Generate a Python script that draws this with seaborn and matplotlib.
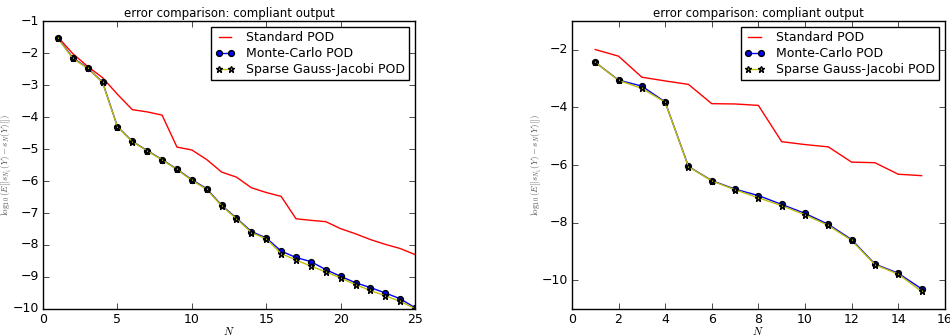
import matplotlib
matplotlib.use("Agg")
import matplotlib.pyplot as plt
import seaborn as sns
import numpy as np
import pandas as pd

plt.style.use("classic")
plt.rcParams["font.family"] = ["DejaVu Sans"]
plt.rcParams["mathtext.fontset"] = "cm"

# Left panel data
N_left = list(range(1, 26))
std_left = [-1.50, -2.02, -2.42, -2.77, -3.29, -3.77, -3.84, -3.94, -4.94, -5.03,
            -5.33, -5.72, -5.88, -6.21, -6.36, -6.48, -7.18, -7.23, -7.27, -7.49,
            -7.65, -7.83, -7.98, -8.11, -8.30]
mc_left = [-1.53, -2.15, -2.47, -2.91, -4.30, -4.76, -5.05, -5.33, -5.63, -5.96,
           -6.24, -6.76, -7.16, -7.58, -7.78, -8.19, -8.39, -8.52, -8.77, -8.98,
           -9.18, -9.33, -9.50, -9.68, -9.96]
sgj_left = [-1.54, -2.17, -2.48, -2.92, -4.31, -4.77, -5.06, -5.34, -5.64, -5.98,
            -6.26, -6.78, -7.18, -7.61, -7.81, -8.27, -8.47, -8.66, -8.84, -9.03,
            -9.24, -9.42, -9.59, -9.76, -9.99]

# Right panel data
N_right = list(range(1, 16))
std_right = [-1.99, -2.22, -2.95, -3.08, -3.20, -3.87, -3.88, -3.93, -5.19, -5.29,
             -5.37, -5.90, -5.92, -6.32, -6.37]
mc_right = [-2.43, -3.05, -3.26, -3.81, -6.05, -6.54, -6.84, -7.06, -7.37, -7.68,
            -8.06, -8.59, -9.44, -9.76, -10.30]
sgj_right = [-2.43, -3.06, -3.34, -3.82, -6.06, -6.55, -6.86, -7.14, -7.41, -7.73,
             -8.10, -8.62, -9.46, -9.79, -10.39]

labels = ["Standard POD", "Monte-Carlo POD", "Sparse Gauss-Jacobi POD"]
title = "error comparison: compliant output"
ylabel = r"$\log_{10}(E[|s_{N_\xi}(Y)-s_N(Y)|])$"
xlabel = r"$N$"

fig = plt.figure(figsize=(9.5, 3.36), dpi=100)
fig.patch.set_facecolor("white")
axL = fig.add_axes([0.0453, 0.0804, 0.3916, 0.857])
axR = fig.add_axes([0.602, 0.0804, 0.3926, 0.857])


def draw(ax, N, std, mc, sgj, xlim, ylim, yticks, xticks, ylab_x):
    sns.lineplot(x=N, y=std, ax=ax, color="red", lw=1.0, label=labels[0])
    sns.lineplot(x=N, y=mc, ax=ax, color="blue", lw=1.0, marker="o", markersize=4.2,
                 markerfacecolor="blue", markeredgecolor="black", markeredgewidth=1.0,
                 label=labels[1])
    sns.lineplot(x=N, y=sgj, ax=ax, color="#bfbf00", lw=1.0, marker="*", markersize=4.5,
                 markerfacecolor="#bfbf00", markeredgecolor="black", markeredgewidth=1.0,
                 label=labels[2])
    ax.set_xlim(*xlim)
    ax.set_ylim(*ylim)
    ax.set_xticks(xticks)
    ax.set_yticks(yticks)
    ax.set_title(title, fontsize=8.5, pad=3)
    ax.set_xlabel(xlabel, fontsize=8)
    ax.xaxis.set_label_coords(0.5, -0.055)
    ax.set_ylabel(ylabel, fontsize=6.5, color="#555555")
    ax.yaxis.set_label_coords(ylab_x, 0.5)
    ax.tick_params(labelsize=9, direction="in", top=True, right=True, length=4, pad=3)
    ax.set_facecolor("white")
    leg = ax.legend(loc="upper right", fontsize=9, numpoints=2, frameon=True,
                    borderpad=0.3, handlelength=1.6, handletextpad=0.9,
                    labelspacing=0.25, fancybox=False, borderaxespad=0.5)
    leg.get_frame().set_edgecolor("black")


draw(axL, N_left, std_left, mc_left, sgj_left, (0, 25), (-10, -1),
     list(range(-10, 0)), [0, 5, 10, 15, 20, 25], -0.078)
draw(axR, N_right, std_right, mc_right, sgj_right, (0, 16), (-11, -1),
     [-10, -8, -6, -4, -2], [0, 2, 4, 6, 8, 10, 12, 14, 16], -0.075)

fig.savefig("out.png", dpi=100, facecolor="white")
